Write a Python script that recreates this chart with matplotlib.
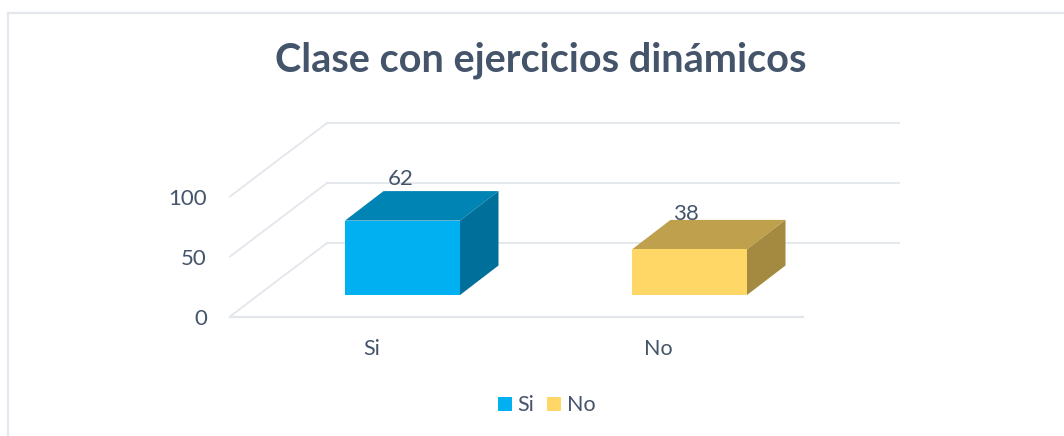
import matplotlib
matplotlib.use('Agg')
import matplotlib.pyplot as plt
from matplotlib.patches import Polygon, Rectangle

title = 'Clase con ejercicios dinámicos'
categories = ['Si', 'No']
values = [62, 38]
y_ticks = [0, 50, 100]
front_colors = ['#00B0F0', '#FFD766']
top_colors = ['#0084B4', '#BFA14D']
side_colors = ['#00709A', '#A38A40']
text_color = '#44546A'
grid_color = '#E3E6EC'

plt.rcParams['font.family'] = ['Lato', 'DejaVu Sans']

# everything is laid out in pixels of the 1064x436 picture
fig = plt.figure(figsize=(10.64, 4.36), dpi=100)
ax = fig.add_axes([0, 0, 1, 1])
ax.set_xlim(0, 1064)
ax.set_ylim(436, 0)
ax.axis('off')

px_per_unit = 1.2
front_x0, front_x1 = 230, 803
back_x0, back_x1 = 327, 899
front_y0 = 316.5
back_y0 = 243
bar_base = 295
bar_lefts = [345, 632]
bar_width = 115
depth_x, depth_y = 38.5, 29.5
label_dx = [56, 54]
label_dy = [13, 7]  # the labels sit at different heights above the bar tops


def wall_y(v, base):
    return base - v * px_per_unit


# chart frame, only the top and left edges show in the crop
ax.plot([8, 8], [436, 13], color='#E4E8EE', lw=1.6)
ax.plot([8, 1064], [13, 13], color='#E4E8EE', lw=1.6)

# gridlines: slanted part on the side wall, straight part on the back wall
for v in y_ticks:
    ax.plot([front_x0, back_x0], [wall_y(v, front_y0), wall_y(v, back_y0)], color=grid_color, lw=1.3)
    ax.plot([back_x0, back_x1], [wall_y(v, back_y0), wall_y(v, back_y0)], color=grid_color, lw=1.3)
    ax.text(207, wall_y(v, front_y0) + 2, str(v), ha='right', va='center', fontsize=16, color=text_color)
ax.plot([front_x0, front_x1], [front_y0, front_y0], color=grid_color, lw=1.6)

for i in range(len(values)):
    x0 = bar_lefts[i]
    x1 = x0 + bar_width
    top = bar_base - values[i] * px_per_unit
    ax.add_patch(Polygon([(x0, top), (x1, top), (x1 + depth_x, top - depth_y), (x0 + depth_x, top - depth_y)],
                         closed=True, fc=top_colors[i], ec='none', zorder=3))
    ax.add_patch(Polygon([(x1, top), (x1 + depth_x, top - depth_y), (x1 + depth_x, bar_base - depth_y), (x1, bar_base)],
                         closed=True, fc=side_colors[i], ec='none', zorder=3))
    ax.add_patch(Rectangle((x0, top), bar_width, values[i] * px_per_unit, fc=front_colors[i], ec='none', zorder=3))
    ax.text(x0 + label_dx[i], top - depth_y - label_dy[i] + 1, str(values[i]), ha='center', va='center', fontsize=16,
            color=text_color, zorder=4)
    ax.text(x0 + 27 + i * -1, 348.5, categories[i], ha='center', va='center', fontsize=15.5, color=text_color)

ax.text(541, 60, title, ha='center', va='center', fontsize=28.5, fontweight='bold', color=text_color)

# legend
ax.add_patch(Rectangle((498, 397), 14, 14, fc=front_colors[0], ec='none'))
ax.text(517, 404.5, categories[0], ha='left', va='center', fontsize=15.5, color=text_color)
ax.add_patch(Rectangle((547, 397), 14, 14, fc=front_colors[1], ec='none'))
ax.text(567, 404.5, categories[1], ha='left', va='center', fontsize=15.5, color=text_color)

fig.savefig('out.png', dpi=100)
plt.close(fig)
